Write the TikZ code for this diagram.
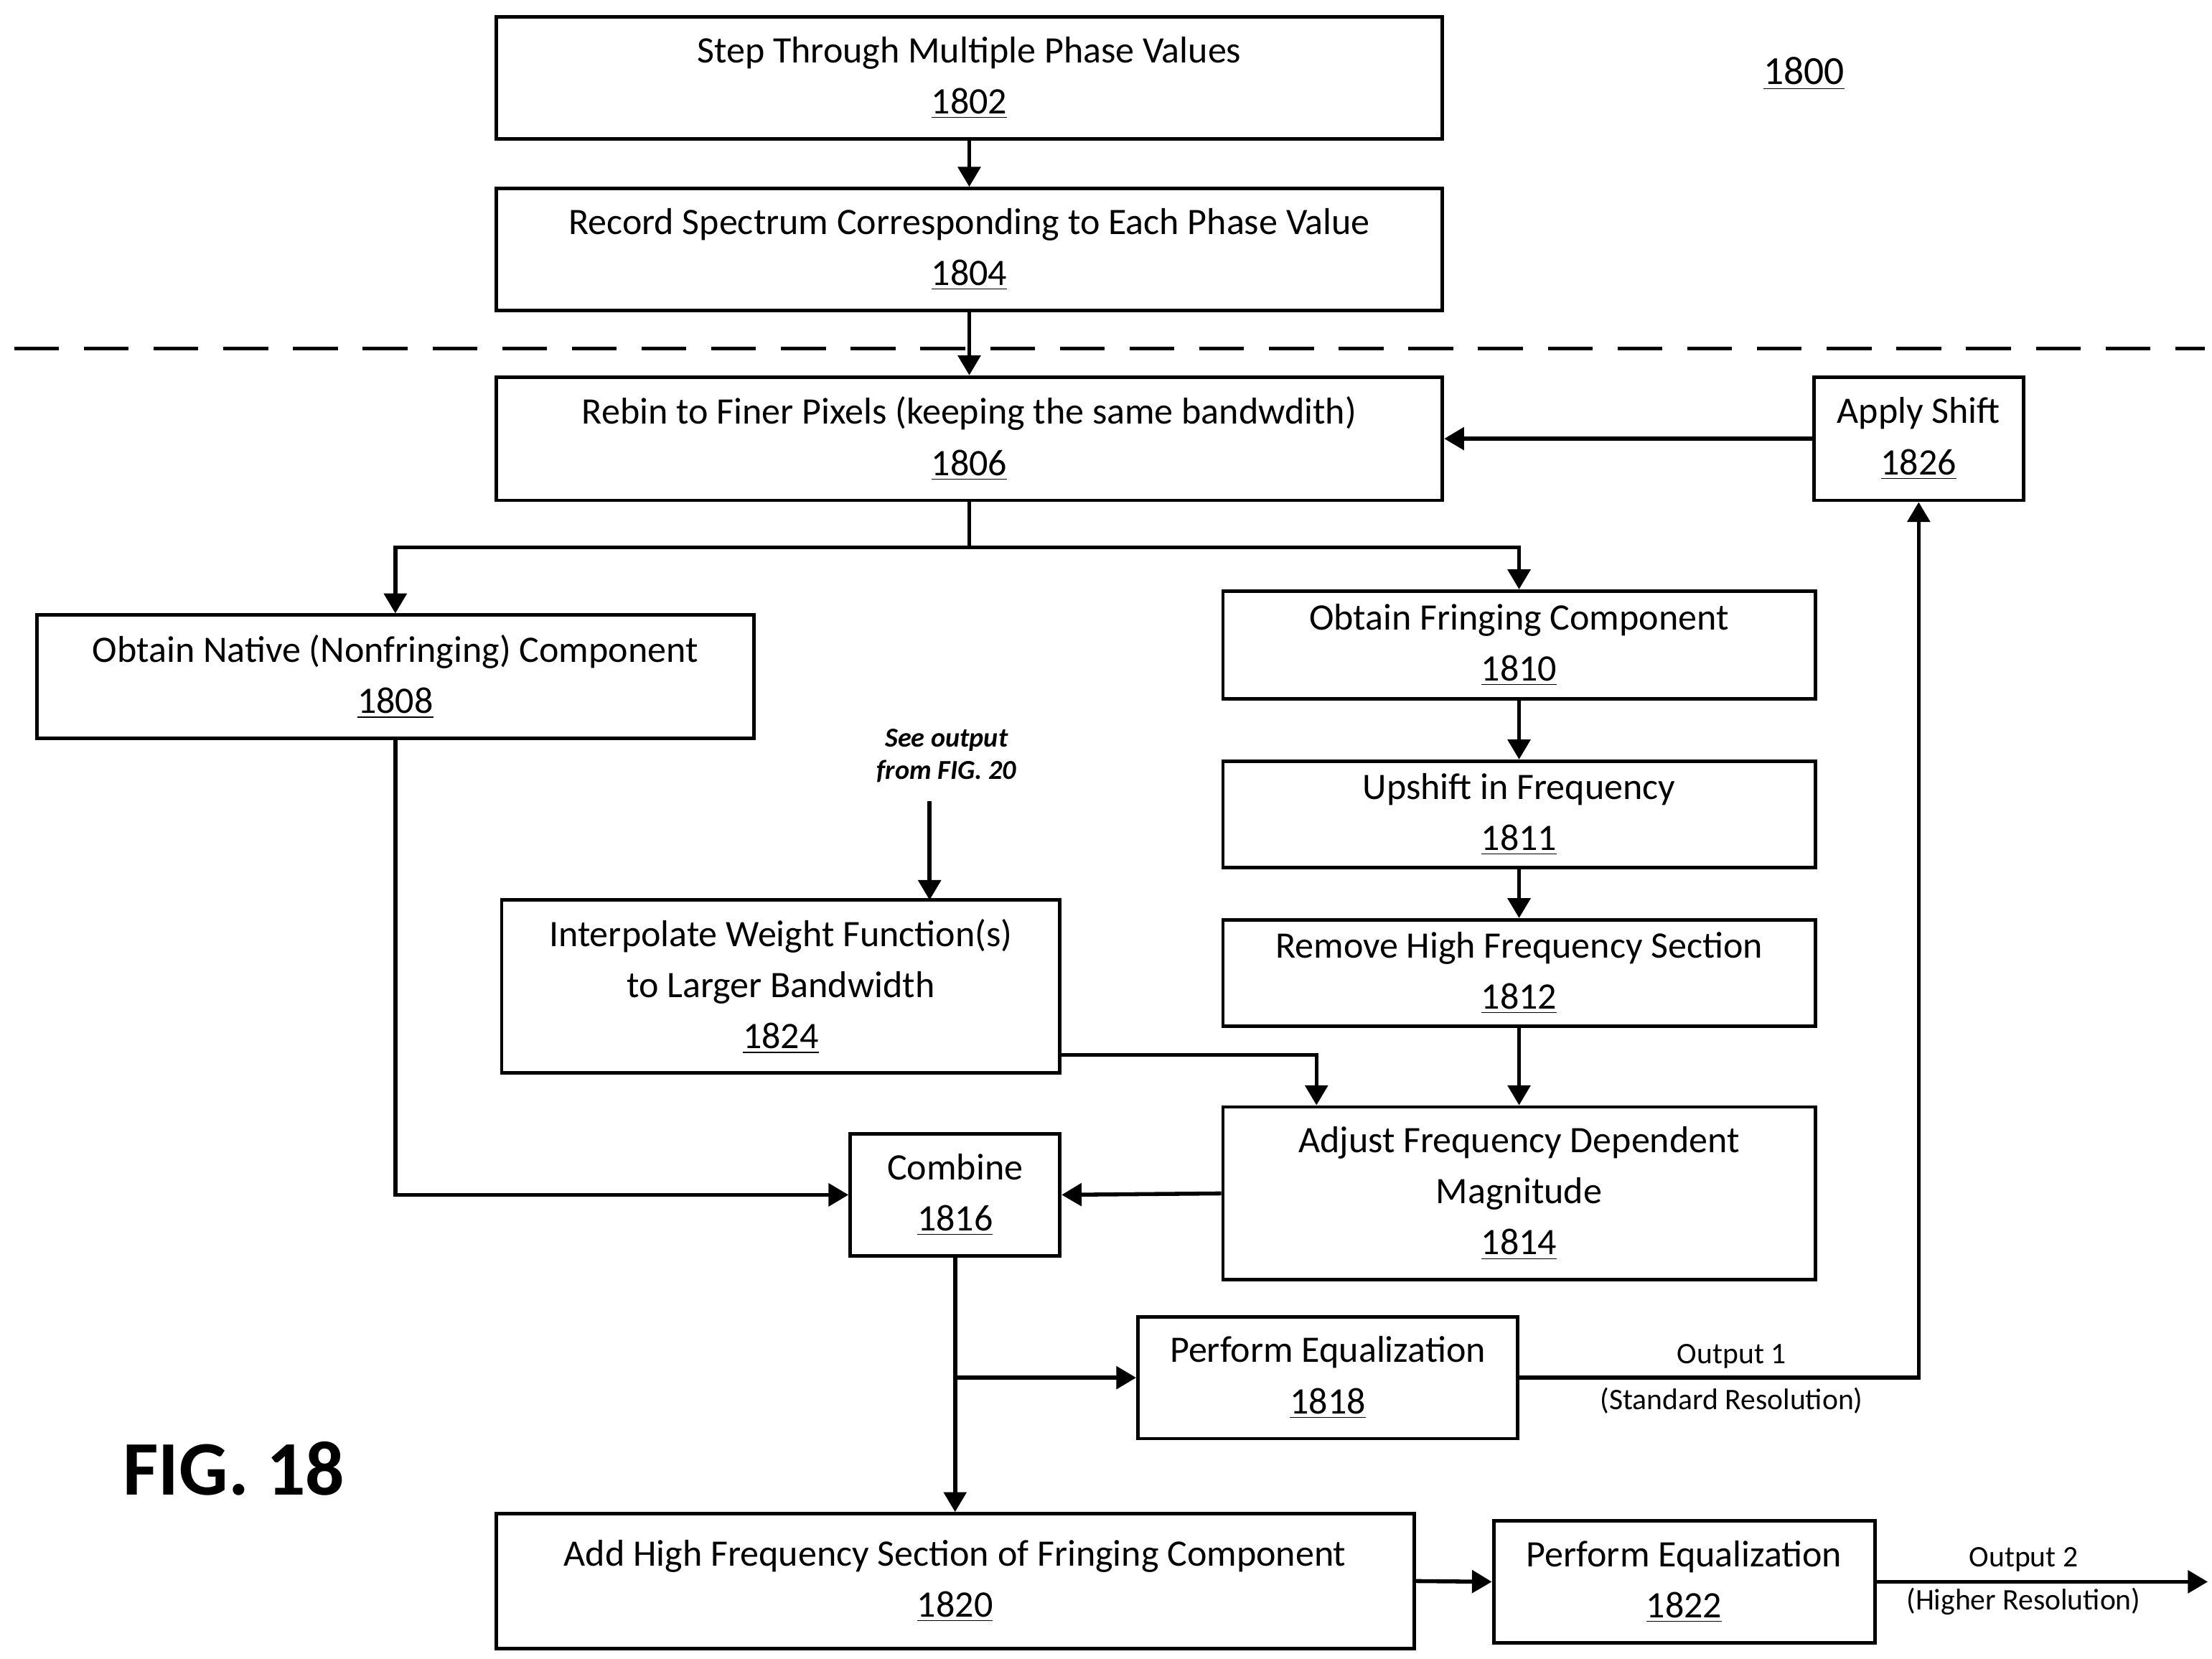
\documentclass[tikz,border=0pt]{standalone}
\usepackage{fontspec}
\setmainfont{Carlito}
\usetikzlibrary{positioning,calc,arrows.meta}

\tikzset{
    box/.style={draw, line width=1.4pt, inner sep=0pt, align=center, font=\fontsize{15}{20.5}\selectfont},
    flow/.style={line width=1.6pt, -{Triangle[length=8pt,width=9pt]}},
    outlabel/.style={font=\fontsize{12}{14}\selectfont}
}

\begin{document}
\begin{tikzpicture}[x=0.02cm, y=-0.02cm]
    \useasboundingbox (0,0) rectangle (1561,1170);

    % blocks above the dashed line
    \node[box, minimum width=13.36cm, minimum height=1.72cm] (n1802) at (684,55) {Step Through Multiple Phase Values\\\underline{1802}};
    \node[box, minimum width=13.36cm, minimum height=1.72cm] (n1804) at (684,176) {Record Spectrum Corresponding to Each Phase Value\\\underline{1804}};
    \node[font=\fontsize{16}{18}\selectfont] (n1800) at (1273,52) {\underline{1800}};
    \draw[line width=1.6pt, dash pattern=on 18pt off 10pt] (10,246) -- (1556,246);

    % blocks below the dashed line
    \node[box, minimum width=13.36cm, minimum height=1.74cm] (n1806) at (684,309.5) {Rebin to Finer Pixels (keeping the same bandwdith)\\\underline{1806}};
    \node[box, minimum width=2.96cm, minimum height=1.74cm] (n1826) at (1354,309.5) {Apply Shift\\\underline{1826}};
    \node[box, minimum width=10.12cm, minimum height=1.74cm] (n1808) at (279,477.5) {Obtain Native (Nonfringing) Component\\\underline{1808}};
    \node[box, minimum width=8.36cm, minimum height=1.52cm] (n1810) at (1072,455) {Obtain Fringing Component\\\underline{1810}};
    \node[box, minimum width=8.36cm, minimum height=1.5cm] (n1811) at (1072,574.5) {Upshift in Frequency\\\underline{1811}};
    \node[box, minimum width=8.36cm, minimum height=1.5cm] (n1812) at (1072,686.5) {Remove High Frequency Section\\\underline{1812}};
    \node[box, minimum width=8.36cm, minimum height=2.44cm] (n1814) at (1072,842) {Adjust Frequency Dependent\\Magnitude\\\underline{1814}};
    \node[box, minimum width=7.88cm, minimum height=2.44cm] (n1824) at (551,696) {Interpolate Weight Function(s)\\to Larger Bandwidth\\\underline{1824}};
    \node[align=center, font=\fontsize{11}{13}\selectfont\bfseries\itshape] (fig20) at (668,533) {See output\\from FIG. 20};
    \node[box, minimum width=2.96cm, minimum height=1.72cm] (n1816) at (674,843) {Combine\\\underline{1816}};
    \node[box, minimum width=5.36cm, minimum height=1.72cm] (n1818) at (937,972) {Perform Equalization\\\underline{1818}};
    \node[box, minimum width=12.96cm, minimum height=1.9cm] (n1820) at (674,1115.5) {Add High Frequency Section of Fringing Component\\\underline{1820}};
    \node[box, minimum width=5.38cm, minimum height=1.72cm] (n1822) at (1188.5,1116) {Perform Equalization\\\underline{1822}};
    \node[font=\fontsize{31}{34}\selectfont\bfseries] (fig) at (165,1036) {FIG. 18};

    % connectors
    \draw[flow] (n1802) -- (n1804);
    \draw[flow] (n1804) -- (n1806);
    \draw[flow] (n1826) -- (n1806);
    \draw[line width=1.6pt] (n1806.south) -- ++(0,32) coordinate (split);
    \draw[flow] (split) -| (n1808.north);
    \draw[flow] (split) -| (n1810.north);
    \draw[flow] (n1810) -- (n1811);
    \draw[flow] (n1811) -- (n1812);
    \draw[flow] (n1812) -- (n1814);
    \draw[flow] (656,565) -- (656,635);
    \draw[flow] ([yshift=0.28cm]n1824.south east) -| ([xshift=-2.86cm]n1814.north);
    \draw[flow] (n1808.south) |- (n1816.west);
    \draw[flow] (n1814.west) -- (n1816.east);
    \draw[flow] (n1816.south) -- (n1820.north);
    \coordinate (branch) at (n1816.south |- n1818.west);
    \draw[flow] (branch) -- (n1818.west);
    \draw[flow] (n1818.east) -| (n1826.south);
    \node[outlabel] at (1222,957) {Output 1};
    \node[outlabel] at (1222,988) {(Standard Resolution)};
    \draw[flow] (n1820.east) -- (n1822.west);
    \coordinate (out2) at (1558,1116);
    \draw[flow] (n1822.east) -- (out2);
    \node[outlabel] at (1428,1100) {Output 2};
    \node[outlabel] at (1428,1130) {(Higher Resolution)};
\end{tikzpicture}
\end{document}
